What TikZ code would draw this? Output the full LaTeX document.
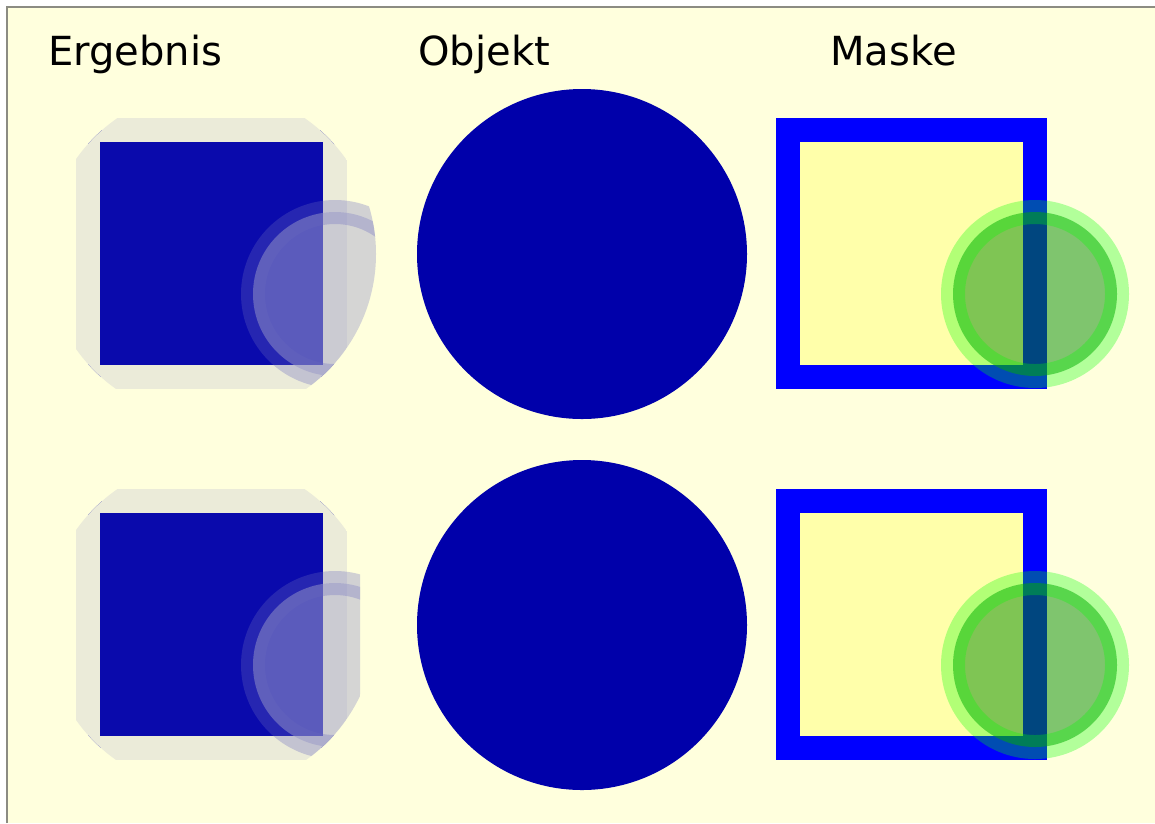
\documentclass[tikz,border=0pt]{standalone}
\usepackage{fontspec}
\setsansfont{DejaVu Sans}

\definecolor{pagebg}{RGB}{255,255,221}
\definecolor{framegray}{RGB}{140,140,130}
\definecolor{objblue}{RGB}{0,0,170}
\definecolor{maskblue}{RGB}{0,0,255}
\definecolor{maskyellow}{RGB}{255,255,170}
\definecolor{maskfill}{RGB}{0,140,0}
\definecolor{maskstroke}{RGB}{0,255,0}
% result colours: object blue weighted by the luminosity of the mask colour
\colorlet{resblue}{objblue!8!pagebg}
\colorlet{resyellow}{objblue!96!pagebg}
\colorlet{resfill}{objblue!32!pagebg}
\colorlet{resstroke}{objblue!59!pagebg}

\begin{document}
\begin{tikzpicture}[
    x=0.02cm, y=-0.02cm,
    font=\sffamily\fontsize{22.8}{27}\selectfont,
    heading/.style={anchor=base west, inner sep=0pt},
    frameline/.style={draw=framegray, line width=0.04cm},
    squarering/.style={line width=0.48cm},
    greenring/.style={line width=0.48cm, fill opacity=0.5, draw opacity=0.3}
]
    \useasboundingbox (0,0) rectangle (1155,823);
    \fill[white] (0,0) rectangle (1155,823);
    \fill[pagebg] (7,7) rectangle (1155,823);
    \draw[frameline] (7,823) -- (7,7) -- (1155,7);

    \node[heading] (ergebnis) at (48,65) {Ergebnis};
    \node[heading] (objekt) at (418,65) {Objekt};
    \node[heading] (maske) at (830,65) {Maske};

    \foreach \dy/\cut in {0/400, 371/360} {
        % Objekt
        \fill[objblue] (582,254+\dy) circle (165);
        % Maske
        \draw[squarering, draw=maskblue, fill=maskyellow] (788,130+\dy) rectangle (1035,377+\dy);
        \draw[greenring, draw=maskstroke, fill=maskfill] (1035,294+\dy) circle (82);
        % Ergebnis
        \begin{scope}
            \clip (211,254+\dy) circle (165);
            \clip (0,0) rectangle (\cut,823);
            \draw[squarering, draw=resblue, fill=resyellow] (88,130+\dy) rectangle (335,377+\dy);
            \draw[greenring, draw=resstroke, fill=resfill] (335,294+\dy) circle (82);
        \end{scope}
    }
\end{tikzpicture}
\end{document}
